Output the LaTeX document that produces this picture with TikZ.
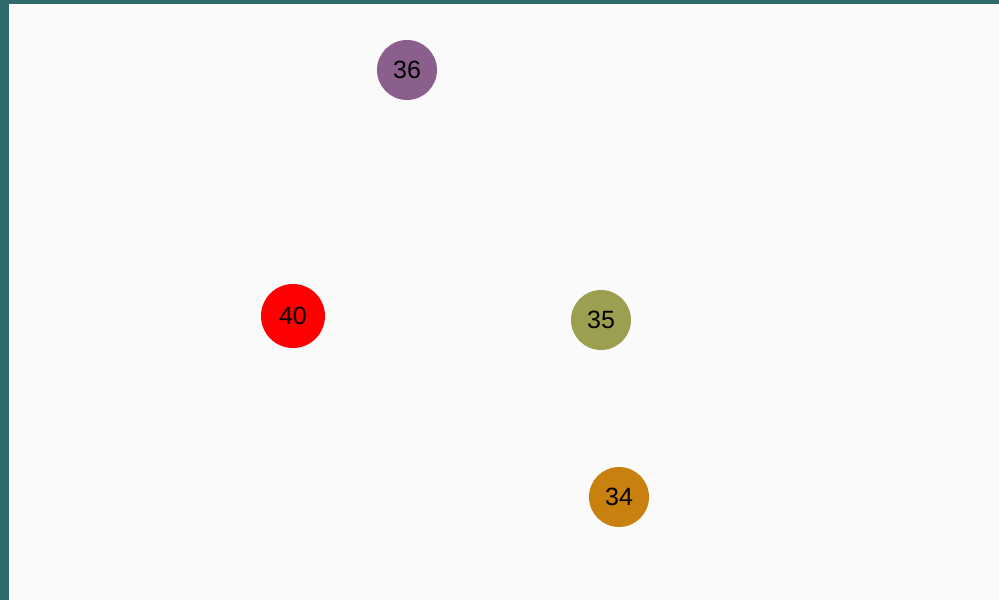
\documentclass[tikz,border=0pt]{standalone}
\usepackage{fontspec}
\setmainfont{Liberation Sans}
\definecolor{teal0}{HTML}{2F6B6A}
\definecolor{bg}{HTML}{FAFAFA}
\definecolor{cpurple}{HTML}{8B5F8B}
\definecolor{cred}{HTML}{FF0000}
\definecolor{colive}{HTML}{9C9F50}
\definecolor{corange}{HTML}{C8800F}
\begin{document}
\begin{tikzpicture}[x=1pt,y=-1pt,
  ball/.style={circle,inner sep=0pt,font=\fontsize{25}{25}\selectfont,text=black}]
\useasboundingbox (0,0) rectangle (999,600);
\fill[teal0] (0,0) rectangle (999,600);
\fill[bg] (9,4) rectangle (999,600);
\node[ball,fill=cpurple,minimum size=60pt] (n36) at (407,70) {36};
\node[ball,fill=cred,minimum size=64pt] (n40) at (293,316) {40};
\node[ball,fill=colive,minimum size=60pt] (n35) at (601,320) {35};
\node[ball,fill=corange,minimum size=60pt] (n34) at (619,497) {34};
\end{tikzpicture}
\end{document}
